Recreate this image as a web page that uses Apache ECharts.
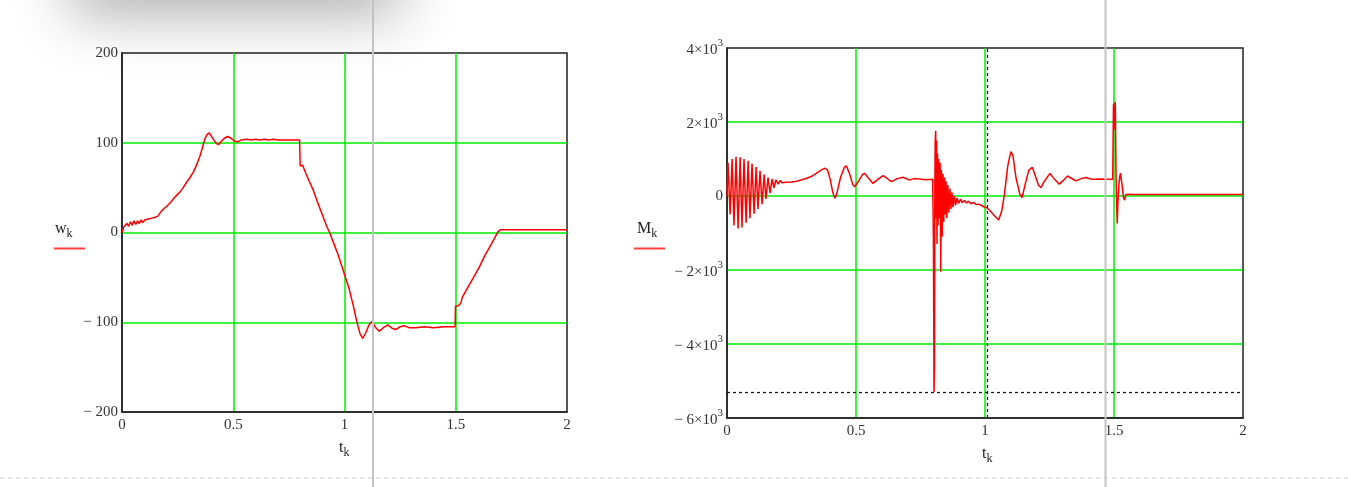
<!DOCTYPE html>
<html>
<head>
<meta charset="utf-8">
<script src="https://cdn.jsdelivr.net/npm/echarts@6/dist/echarts.min.js"></script>
<style>
html,body{margin:0;padding:0;background:#fff;}
#c{width:1348px;height:487px;}
</style>
</head>
<body>
<div id="c"></div>
<script>
// ---- data: left chart w_k(t_k) ----
const tW = [0,0.008,0.015,0.022,0.03,0.038,0.046,0.054,0.062,0.07,0.078,0.086,0.094,0.102,0.11,0.118,0.126,0.134,0.142,0.15,
  0.16,0.175,0.19,0.205,0.22,0.24,0.26,0.275,0.29,0.305,0.32,0.335,0.35,0.362,0.372,0.382,0.392,0.40,0.41,0.425,0.435,0.445,
  0.46,0.475,0.49,0.505,0.52,0.535,0.56,0.58,0.60,0.62,0.64,0.66,0.68,0.70,0.75,0.798,0.801,0.806,0.812,0.82,0.826,0.84,0.86,
  0.88,0.90,0.92,0.933,0.95,0.97,0.995,1.02,1.04,1.055,1.07,1.082,1.095,1.11,1.124,1.14,1.157,1.175,1.195,1.215,1.232,1.25,
  1.27,1.29,1.32,1.36,1.40,1.45,1.497,1.499,1.51,1.522,1.53,1.55,1.58,1.607,1.63,1.66,1.69,1.70,2.0];
const wVals = [0,6,4,10,7,12,8,13,9,13,10,14,11,14,12,15,13,16,14,17,
  18,23,27,30,34,40,45,50,56,61,67,75,85,95,104,109,111,110,104,99,98,101,
  105,107,105,102,101,103,104,103,104,103,104,103,104,103,103,103,74,72,75,74,66,58,47,
  33,20,7,0,-11,-24,-43,-62,-82,-99,-113,-118,-112,-103,-99,-106,-110,-106,-103,-107,-108,-105,
  -104,-106,-106,-105,-106,-105,-105,-82,-82,-79,-72,-63,-50,-38,-26,-13,1,3,3];

// ---- data: right chart M_k(t_k) ----
const tM = [0,0.004,0.012,0.020,0.027,0.035,0.043,0.051,0.058,0.066,0.074,0.082,0.089,0.097,0.105,0.113,0.120,0.128,0.136,
  0.144,0.151,0.159,0.167,0.175,0.182,0.190,0.198,0.206,0.213,0.23,0.25,0.27,0.29,0.31,0.33,0.35,0.37,0.38,0.39,0.40,0.41,
  0.418,0.425,0.44,0.455,0.463,0.475,0.487,0.495,0.51,0.525,0.534,0.55,0.566,0.585,0.605,0.62,0.637,0.66,0.682,0.708,0.725,
  0.747,0.77,0.797,0.800,0.8025,0.804,0.8055,0.807,0.809,0.811,0.8125,0.814,0.816,0.818,0.820,0.823,0.826,0.8285,0.831,
  0.834,0.837,0.840,0.843,0.846,0.849,0.852,0.856,0.860,0.864,0.868,0.872,0.876,0.881,0.886,0.892,0.898,0.905,0.912,0.920,
  0.928,0.936,0.945,0.955,0.965,0.975,0.985,0.995,1.005,1.02,1.035,1.053,1.065,1.075,1.088,1.100,1.108,1.120,1.135,1.144,
  1.155,1.170,1.183,1.195,1.207,1.217,1.230,1.252,1.270,1.288,1.305,1.320,1.340,1.353,1.372,1.391,1.410,1.424,1.45,1.47,
  1.495,1.498,1.502,1.505,1.508,1.510,1.5125,1.515,1.519,1.522,1.525,1.529,1.533,1.537,1.541,1.546,1.552,1.558,1.565,1.575,
  1.6,2.0];
const mVals = [0,900,-500,1000,-800,1060,-880,1050,-850,1000,-720,950,-600,880,-480,780,-350,680,-220,
  580,-80,500,80,460,220,440,320,420,360,370,380,400,440,480,540,630,720,750,700,450,100,
  -60,50,500,780,810,600,320,250,400,580,610,470,340,450,550,480,390,470,505,430,470,
  460,440,450,-1100,-5300,-4650,200,1500,1760,-600,1500,-1300,1150,-800,1000,-600,900,-2050,700,
  -1100,600,-700,500,-500,400,-600,300,-450,200,-350,100,-300,0,-250,-50,-200,-80,-180,-120,
  -190,-140,-210,-170,-230,-220,-250,-290,-310,-400,-520,-650,-400,30,800,1200,1100,500,50,-40,
  300,700,775,550,300,225,400,610,450,320,430,540,460,410,470,500,460,450,460,450,
  450,2500,1800,2550,500,-150,-740,-200,300,500,620,600,200,-50,-110,40,90,50,20,40,
  40,40];

// trace cursor (dashed crosshair) on the right chart
const cursorT = [1.01];
const cursorM = [-5300];

// axis tick labels
const xTicks = ['0','0.5','1','1.5','2'];
const wTicks = {'200':'200','100':'100','0':'0','-100':'\u2212 100','-200':'\u2212 200'};
const mTicks = {'4000':['','4'],'2000':['','2'],'0':['',''],'-2000':['\u2212 ','2'],'-4000':['\u2212 ','4'],'-6000':['\u2212 ','6']};

const serif = '"Liberation Serif","Times New Roman",serif';
const chart = echarts.init(document.getElementById('c'), null, {renderer:'canvas'});

const xAxisBase = (gi) => ({
  type:'value', gridIndex:gi, min:0, max:2, interval:0.5,
  axisLine:{show:true, onZero:false, lineStyle:{color:'#222', width:1.5}},
  axisTick:{show:false},
  axisLabel:{fontFamily:serif, fontSize:15, color:'#333', margin:6,
    formatter:(v)=>xTicks[Math.round(v*2)]},
  splitLine:{show:true, showMinLine:false, showMaxLine:false, lineStyle:{color:'#00ee00', width:1.5}}
});

chart.setOption({
  animation:false,
  backgroundColor:'#ffffff',
  grid:[
    {left:122, top:53, width:445, height:359, show:true, borderColor:'#222', borderWidth:1.5, backgroundColor:'transparent'},
    {left:727, top:48, width:516, height:370, show:true, borderColor:'#222', borderWidth:1.5, backgroundColor:'transparent'}
  ],
  xAxis:[xAxisBase(0), xAxisBase(1)],
  yAxis:[
    {type:'value', gridIndex:0, min:-200, max:200, interval:100,
     axisLine:{show:true, onZero:false, lineStyle:{color:'#222', width:1.5}}, axisTick:{show:false},
     axisLabel:{fontFamily:serif, fontSize:15, color:'#333', margin:4, formatter:(v)=>wTicks[String(v)]},
     splitLine:{show:true, showMinLine:false, showMaxLine:false, lineStyle:{color:'#00ee00', width:1.5}}},
    {type:'value', gridIndex:1, min:-6000, max:4000, interval:2000,
     axisLine:{show:true, onZero:false, lineStyle:{color:'#222', width:1.5}}, axisTick:{show:false},
     axisLabel:{fontFamily:serif, fontSize:15, color:'#333', margin:4,
       formatter:(v)=>{const p=mTicks[String(v)]; if(v===0) return '{n|0}'; return '{n|'+p[0]+p[1]+'\u00d710}{s|3}';},
       rich:{n:{fontFamily:serif, fontSize:15, color:'#333', verticalAlign:'bottom'},
             s:{fontFamily:serif, fontSize:11, color:'#333', verticalAlign:'top', padding:[0,0,9,0]}}},
     splitLine:{show:true, showMinLine:false, showMaxLine:false, lineStyle:{color:'#00ee00', width:1.5}}}
  ],
  series:[
    {type:'line', xAxisIndex:0, yAxisIndex:0, showSymbol:false, symbol:'none', sampling:'none',
     lineStyle:{color:'#ff0000', width:1.5}, data:tW.map((t,i)=>[t,wVals[i]])},
    {type:'line', xAxisIndex:1, yAxisIndex:1, showSymbol:false, symbol:'none', sampling:'none',
     lineStyle:{color:'#ff0000', width:1.5}, data:tM.map((t,i)=>[t,mVals[i]]),
     markLine:{silent:true, symbol:'none', label:{show:false},
       lineStyle:{color:'#111', type:[3,3], width:1.2},
       data:[{xAxis:cursorT[0]},{yAxis:cursorM[0]}]}}
  ],
  graphic:[
    // window shadow at top-left (only the blur is visible)
    {type:'rect', z:0, silent:true, shape:{x:70, y:-80, width:330, height:80},
     style:{fill:'#d0d0d0', shadowBlur:60, shadowOffsetY:14, shadowColor:'rgba(0,0,0,0.32)'}},
    // screen separator lines
    {type:'line', z:100, silent:true, shape:{x1:373, y1:0, x2:373, y2:487}, style:{stroke:'#c4c4c4', lineWidth:2}},
    {type:'line', z:100, silent:true, shape:{x1:1105.5, y1:0, x2:1105.5, y2:487}, style:{stroke:'#c4c4c4', lineWidth:2}},
    {type:'line', z:100, silent:true, shape:{x1:0, y1:478, x2:1348, y2:478}, style:{stroke:'#c8c8c8', lineWidth:1, lineDash:[4,4]}},
    // y-axis titles with legend line
    {type:'text', z:50, left:55, top:221, style:{text:'{a|w}{b|k}', rich:{a:{fontFamily:serif, fontSize:16, fill:'#222'}, b:{fontFamily:serif, fontSize:12, fill:'#222', padding:[9,0,0,0]}}}},
    {type:'line', z:50, shape:{x1:54, y1:248.5, x2:85, y2:248.5}, style:{stroke:'#ff4040', lineWidth:2}},
    {type:'text', z:50, left:637, top:221, style:{text:'{a|M}{b|k}', rich:{a:{fontFamily:serif, fontSize:16, fill:'#222'}, b:{fontFamily:serif, fontSize:12, fill:'#222', padding:[9,0,0,0]}}}},
    {type:'line', z:50, shape:{x1:634, y1:248.5, x2:665, y2:248.5}, style:{stroke:'#ff4040', lineWidth:2}},
    // x-axis titles
    {type:'text', z:50, left:339, top:440, style:{text:'{a|t}{b|k}', rich:{a:{fontFamily:serif, fontSize:16, fill:'#222'}, b:{fontFamily:serif, fontSize:12, fill:'#222', padding:[9,0,0,0]}}}},
    {type:'text', z:50, left:982, top:446, style:{text:'{a|t}{b|k}', rich:{a:{fontFamily:serif, fontSize:16, fill:'#222'}, b:{fontFamily:serif, fontSize:12, fill:'#222', padding:[9,0,0,0]}}}}
  ]
});
</script>
</body>
</html>
